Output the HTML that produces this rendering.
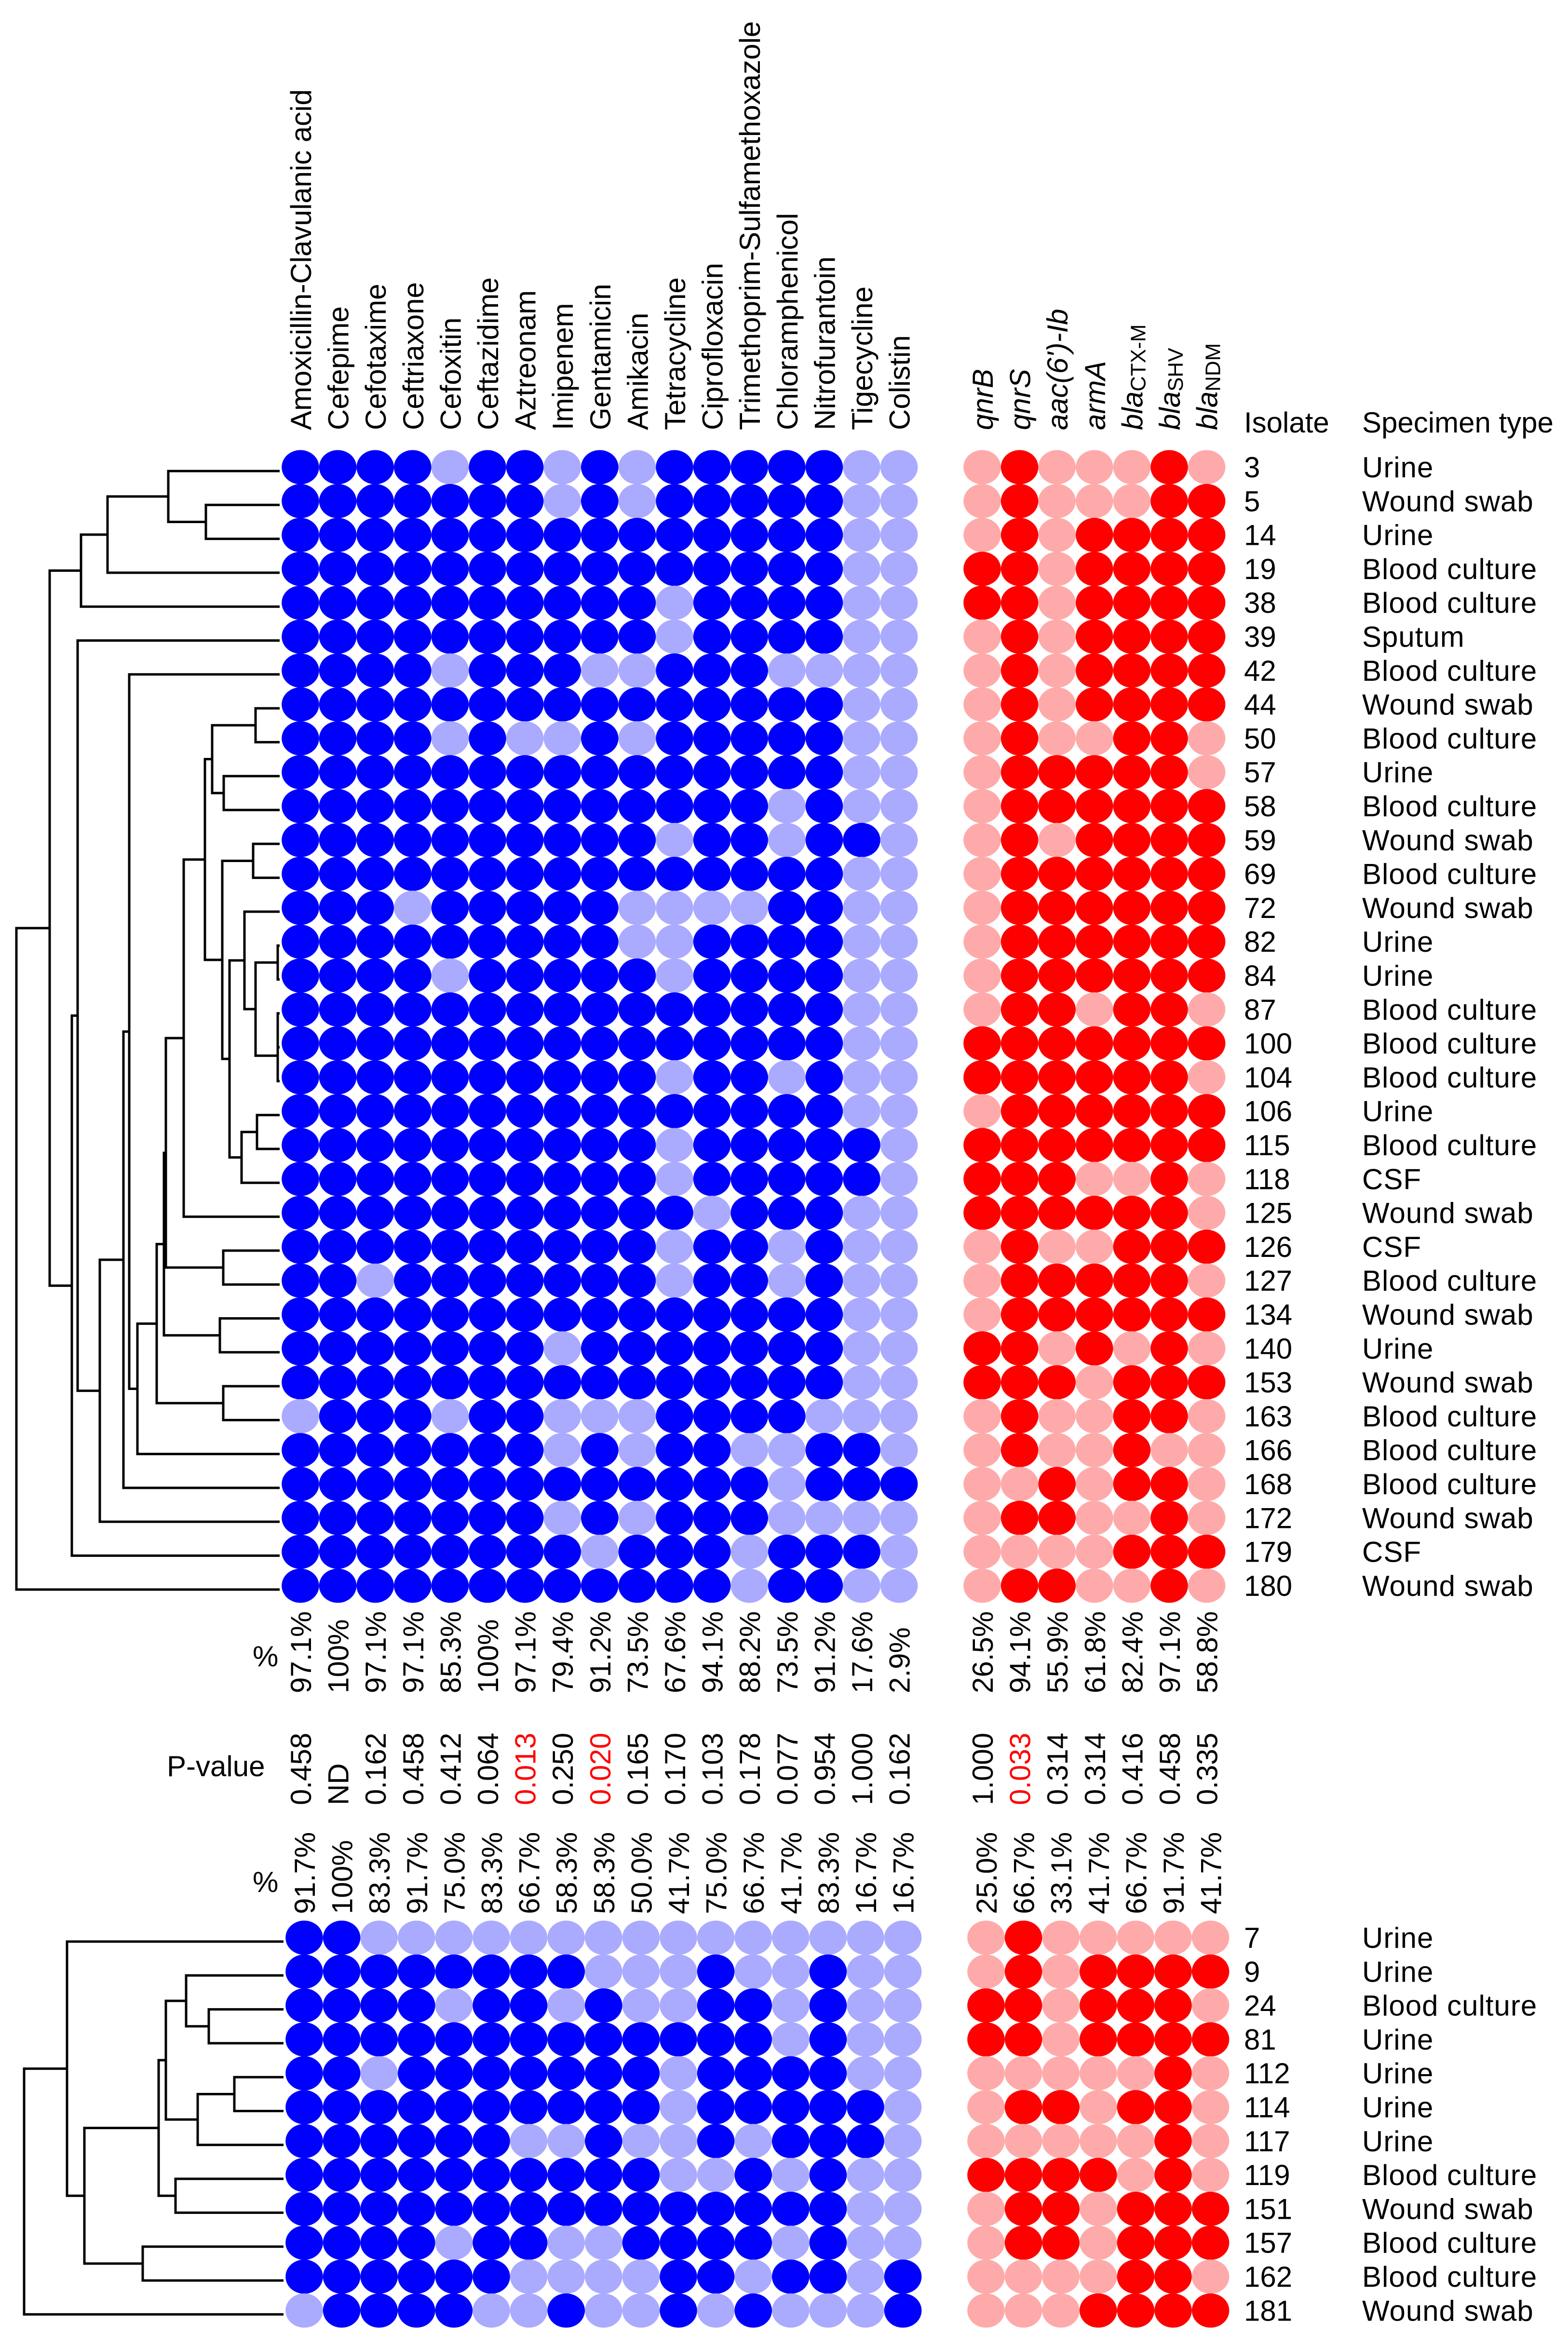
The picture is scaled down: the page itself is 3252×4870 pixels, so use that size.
<!DOCTYPE html>
<html><head><meta charset="utf-8"><style>
html,body{margin:0;padding:0;background:#fff;font-family:"Liberation Sans",Arial,sans-serif;}
svg{display:block;font-family:"Liberation Sans",Arial,sans-serif;}
</style></head><body>
<svg id="chart" xmlns="http://www.w3.org/2000/svg" width="3252" height="4870" viewBox="0 0 3252 4870">
<rect x="0" y="0" width="3252" height="4870" fill="#fff"/>
<g id="dendro"></g>
<g id="dots"></g>
<g id="labels"></g>
<text x="2580" y="897" font-size="60">Isolate</text>
<text x="2825" y="897" font-size="60">Specimen type</text>
<text x="524" y="3456" font-size="60">%</text>
<text x="346" y="3684" font-size="60">P-value</text>
<text x="524" y="3924" font-size="60">%</text>
</svg>
<script>
const antibiotics = ["Amoxicillin-Clavulanic acid","Cefepime","Cefotaxime","Ceftriaxone","Cefoxitin","Ceftazidime","Aztreonam","Imipenem","Gentamicin","Amikacin","Tetracycline","Ciprofloxacin","Trimethoprim-Sulfamethoxazole","Chloramphenicol","Nitrofurantoin","Tigecycline","Colistin"];
const genes = [["qnrB",""],["qnrS",""],["aac(6')-Ib",""],["armA",""],["bla","CTX-M"],["bla","SHV"],["bla","NDM"]];
const topIsolates = ["3","5","14","19","38","39","42","44","50","57","58","59","69","72","82","84","87","100","104","106","115","118","125","126","127","134","140","153","163","166","168","172","179","180"];
const topSpecimens = ["Urine","Wound swab","Urine","Blood culture","Blood culture","Sputum","Blood culture","Wound swab","Blood culture","Urine","Blood culture","Wound swab","Blood culture","Wound swab","Urine","Urine","Blood culture","Blood culture","Blood culture","Urine","Blood culture","CSF","Wound swab","CSF","Blood culture","Wound swab","Urine","Wound swab","Blood culture","Blood culture","Blood culture","Wound swab","CSF","Wound swab"];
const topAbx = ["11110110101111100","11111110101111100","11111111111111100","11111111111111100","11111111110111100","11111111110111100","11110111001110000","11111111111111100","11110100101111100","11111111111111100","11111111111110100","11111111110110110","11111111111111100","11101111100001100","11111111100111100","11110111110111100","11111111111111100","11111111111111100","11111111110110100","11111111111111100","11111111110111110","11111111110111110","11111111111011100","11111111110110100","11011111110110100","11111111111111100","11111110111111100","11111111111111100","01110110001111000","11111110101100110","11111111111110111","11111110101110000","11111111011101110","11111111111101100"];
const topGenes = ["0100010","0100011","0101111","1101111","1101111","0101111","0101111","0101111","0100110","0111110","0111111","0101111","0111111","0111111","0111111","0111111","0110110","1111111","1111110","0111111","1111111","1110010","1111110","0100111","0111110","0111111","1101010","1110111","0100110","0100100","0010110","0110010","0000111","0110010"];
const botIsolates = ["7","9","24","81","112","114","117","119","151","157","162","181"];
const botSpecimens = ["Urine","Urine","Blood culture","Urine","Urine","Urine","Urine","Blood culture","Wound swab","Blood culture","Blood culture","Wound swab"];
const botAbx = ["11000000000000000","11111111000100100","11110110100110100","11111111111110100","11011111110111100","11111111110111110","11111100100101110","11111111110010100","11111111111111100","11110110011110100","11111100001101101","01111001001010001"];
const botGenes = ["0100000","0101111","1101110","1101111","0000010","0110110","0000010","1111010","0110111","0110111","0000110","0001111"];
const topPctAbx = ["97.1%","100%","97.1%","97.1%","85.3%","100%","97.1%","79.4%","91.2%","73.5%","67.6%","94.1%","88.2%","73.5%","91.2%","17.6%","2.9%"];
const topPctGene = ["26.5%","94.1%","55.9%","61.8%","82.4%","97.1%","58.8%"];
const pAbx = ["0.458","ND","0.162","0.458","0.412","0.064","0.013","0.250","0.020","0.165","0.170","0.103","0.178","0.077","0.954","1.000","0.162"];
const pGene = ["1.000","0.033","0.314","0.314","0.416","0.458","0.335"];
const botPctAbx = ["91.7%","100%","83.3%","91.7%","75.0%","83.3%","66.7%","58.3%","58.3%","50.0%","41.7%","75.0%","66.7%","41.7%","83.3%","16.7%","16.7%"];
const botPctGene = ["25.0%","66.7%","33.1%","41.7%","66.7%","91.7%","41.7%"];
// dendrogram trees: [left, right, height]; leaves are row indices
const tTop = [[[0,[1,2,153],231],3,357],4,412];
const tN440 = [[7,8,50],[9,10,116],140];
const tN530 = [[14,15,4],[[16,17,4],18,4],50];
const tN476 = [[13,tN530,73],[[19,20,47],21,79],104];
const tN461 = [[11,12,55],tN476,119];
const tN381 = [[tN440,tN461,155],22,199];
const tN325 = [[[tN381,[23,24,117],236],[25,26,124],240],[27,28,117],255];
const tN207 = [[[6,[tN325,29,295],312],30,324],31,373];
const topTree = [[tTop,[[5,tN207,419],32,431],477],33,546];
const botTree = [[0,[[[[1,[2,3,155],202],[[4,5,102],6,178],244],[7,8,224],259],[9,10,292],413],449],11,538];

const NS="http://www.w3.org/2000/svg";
const dendro=document.getElementById('dendro'), dots=document.getElementById('dots'), labels=document.getElementById('labels');
function mk(tag,attrs,parent){const e=document.createElementNS(NS,tag);for(const k in attrs)e.setAttribute(k,attrs[k]);parent.appendChild(e);return e;}
const COLW=77.6, ROWH=70.3;
function colX(i,off){return 623+COLW*i+off;}
function geneX(i,off){return 2037+COLW*i+off;}

function drawBlock(y0,off,isol,spec,abx,gen,tree,prefix){
  const rowY=r=>y0+ROWH*r;
  for(let r=0;r<abx.length;r++){
    for(let c=0;c<antibiotics.length;c++){
      const on=abx[r][c]==='1';
      const e=mk('ellipse',{cx:colX(c,off),cy:rowY(r),rx:38.8,ry:35.5,fill:on?'#0000ff':'#aaaaff'},dots);
      
      
    }
    for(let g=0;g<genes.length;g++){
      const on=gen[r][g]==='1';
      const e=mk('ellipse',{cx:geneX(g,off),cy:rowY(r),rx:38.8,ry:35.5,fill:on?'#ff0000':'#ffaaaa'},dots);
      
      
    }
    const t1=mk('text',{x:2580,y:rowY(r)+21,'font-size':60},labels);t1.textContent=isol[r];
    
    
    const t2=mk('text',{x:2825,y:rowY(r)+21,'font-size':60,'letter-spacing':1},labels);t2.textContent=spec[r];
    
    
  }
  const leafX=580+off;
  function walk(n){
    if(typeof n==='number') return {x:leafX,y:rowY(n)+8};
    const a=walk(n[0]), b=walk(n[1]);
    const x=leafX-n[2];
    const p=mk('path',{d:`M${a.x},${a.y}H${x}V${b.y}H${b.x}`,fill:'none',stroke:'#000','stroke-width':5},dendro);
    
    
    return {x:x,y:(a.y+b.y)/2};
  }
  walk(tree);
}
drawBlock(969,0,topIsolates,topSpecimens,topAbx,topGenes,topTree,'top');
drawBlock(4019,8,botIsolates,botSpecimens,botAbx,botGenes,botTree,'bottom');

function vtext(x,y,txt,anchor,color,name){
  const t=mk('text',{x:0,y:0,'font-size':60,'text-anchor':anchor,fill:color||'#000',transform:`translate(${x},${y}) rotate(-90)`},labels);
  t.textContent=txt;
  
  
  return t;
}
antibiotics.forEach((a,i)=>vtext(colX(i,0)+22,892,a,'start','#000','antibiotic-header'));
genes.forEach((g,i)=>{
  const t=mk('text',{x:0,y:0,'font-size':60,transform:`translate(${geneX(i,0)+22},892) rotate(-90)`},labels);
  
  
  const s1=mk('tspan',{'font-style':'italic'},t);s1.textContent=g[0];
  if(g[1]){const s2=mk('tspan',{'font-size':44,dy:6},t);s2.textContent=g[1];}
});
topPctAbx.forEach((v,i)=>vtext(colX(i,0)+22,3512,v,'start','#000','top-percent-value'));
topPctGene.forEach((v,i)=>vtext(geneX(i,0)+22,3512,v,'start','#000','top-percent-value'));
pAbx.forEach((v,i)=>vtext(colX(i,0)+22,3744,v,'start',parseFloat(v)<0.05?'#ff0000':'#000','p-value'));
pGene.forEach((v,i)=>vtext(geneX(i,0)+22,3744,v,'start',parseFloat(v)<0.05?'#ff0000':'#000','p-value'));
botPctAbx.forEach((v,i)=>vtext(colX(i,8)+22,3970,v,'start','#000','bottom-percent-value'));
botPctGene.forEach((v,i)=>vtext(geneX(i,8)+22,3970,v,'start','#000','bottom-percent-value'));
</script>
</body></html>
